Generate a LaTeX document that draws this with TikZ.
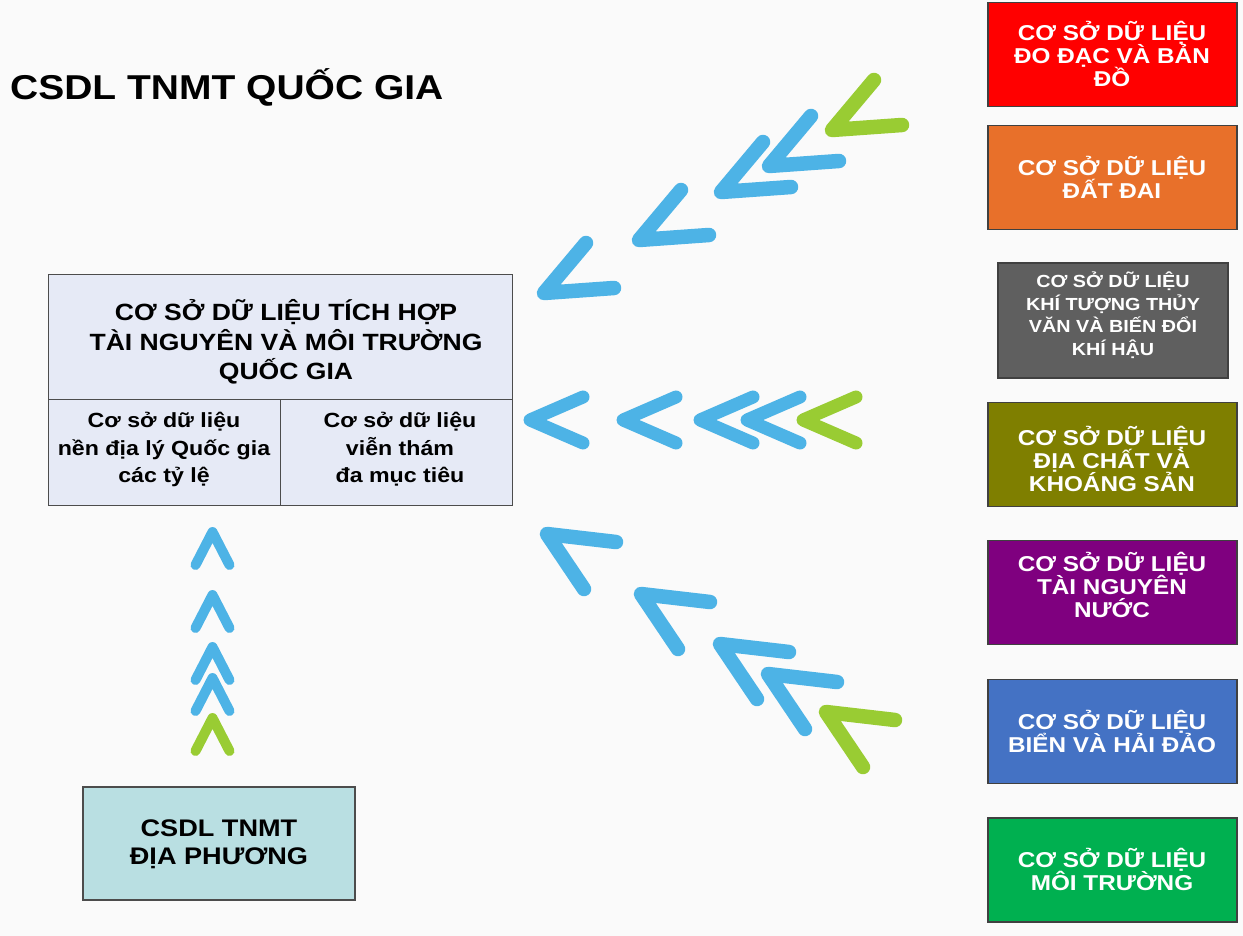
\documentclass[tikz,border=0pt]{standalone}
\usepackage{fontspec}
\setmainfont{Liberation Sans}[FakeStretch=1.13]
\newcommand\tightls{\lineskiplimit=-100pt\relax}
\definecolor{bgc}{HTML}{FAFAFA}
\definecolor{chevblue}{HTML}{4DB3E6}
\definecolor{chevgreen}{HTML}{99CC33}
\definecolor{cellfill}{HTML}{E6EAF6}
\definecolor{localfill}{HTML}{B9DFE2}
\definecolor{cred}{HTML}{FF0000}
\definecolor{corange}{HTML}{E8702A}
\definecolor{cgray}{HTML}{5F5F5F}
\definecolor{colive}{HTML}{7F7F00}
\definecolor{cpurple}{HTML}{7F007F}
\definecolor{cblue}{HTML}{4472C4}
\definecolor{cgreen}{HTML}{00B050}
\begin{document}
\begin{tikzpicture}[x=1pt,y=-1pt,
  cell/.style={draw=black!70, line width=1.1pt, fill=cellfill, anchor=north west, inner sep=0pt},
  rbox/.style={draw=black!75, line width=1.1pt, minimum width=249pt, minimum height=104pt, inner sep=0pt},
  rtext/.style={text=white, align=center, inner sep=0pt, font=\fontsize{21.5}{23}\selectfont\bfseries\tightls},
  btext/.style={text=black, align=center, inner sep=0pt},
  cb/.style={color=chevblue},
  cg/.style={color=chevgreen},
  chevh/.pic={\draw[line width=13pt, line cap=round, line join=round] (53,-23) -- (0,0) -- (53,23);},
  chevu/.pic={\draw[line width=14.5pt, line cap=round, line join=round] (42,-50) -- (0,0) -- (70,-5);},
  chevl/.pic={\draw[line width=14.5pt, line cap=round, line join=round] (69,8) -- (0,0) -- (37,55);},
  chevup/.pic={\draw[line width=10pt, line cap=round, line join=round] (-17,33) -- (0,0) -- (17,33);}
]
\fill[bgc] (0,0) rectangle (1243,936);

% title
\node[anchor=base west, inner sep=0pt, font=\fontsize{34.5}{40}\selectfont\bfseries] (title) at (10,100) {CSDL TNMT QUỐC GIA};

% central box
\node[cell, minimum width=464pt, minimum height=125pt] (top) at (48,274) {};
\node[cell, minimum width=232pt, minimum height=106pt] (bl) at (48,399) {};
\node[cell, minimum width=232pt, minimum height=106pt] (br) at (280,399) {};
\node[btext, font=\fontsize{23.5}{29.5}\selectfont\bfseries\tightls] (toptxt) at (286,342) {CƠ SỞ DỮ LIỆU TÍCH HỢP\\TÀI NGUYÊN VÀ MÔI TRƯỜNG\\QUỐC GIA};
\node[btext, font=\fontsize{20.5}{27.5}\selectfont\bfseries\tightls] (bltxt) at (164,449.5) {Cơ sở dữ liệu\\nền địa lý Quốc gia\\các tỷ lệ};
\node[btext, font=\fontsize{20.5}{27.5}\selectfont\bfseries\tightls] (brtxt) at (400,449.5) {Cơ sở dữ liệu\\viễn thám\\đa mục tiêu};

% local box
\node[draw=black!70, line width=1.1pt, fill=localfill, minimum width=272pt, minimum height=113pt, inner sep=0pt] (local) at (219,843.5) {};
\node[btext, font=\fontsize{24}{28}\selectfont\bfseries\tightls] (localtxt) at (219,844) {CSDL TNMT\\ĐỊA PHƯƠNG};

% right boxes
\node[rbox, fill=cred] (b1) at (1112.5,54.5) {};
\node[rtext] (t1) at (1112,53.5) {CƠ SỞ DỮ LIỆU\\ĐO ĐẠC VÀ BẢN\\ĐỒ};
\node[rbox, fill=corange] (b2) at (1112.5,177.5) {};
\node[rtext] (t2) at (1112,177.5) {CƠ SỞ DỮ LIỆU\\ĐẤT ĐAI};
\node[rbox, fill=cgray, minimum width=230pt, minimum height=115pt] (b3) at (1113,320.5) {};
\node[rtext, font=\fontsize{17.5}{22.5}\selectfont\bfseries\tightls] (t3) at (1113,315) {CƠ SỞ DỮ LIỆU\\KHÍ TƯỢNG THỦY\\VĂN VÀ BIẾN ĐỔI\\KHÍ HẬU};
\node[rbox, fill=colive] (b4) at (1112.5,454.5) {};
\node[rtext] (t4) at (1112,458.5) {CƠ SỞ DỮ LIỆU\\ĐỊA CHẤT VÀ\\KHOÁNG SẢN};
\node[rbox, fill=cpurple] (b5) at (1112.5,592.5) {};
\node[rtext] (t5) at (1112,585) {CƠ SỞ DỮ LIỆU\\TÀI NGUYÊN\\NƯỚC};
\node[rbox, fill=cblue] (b6) at (1112.5,731.5) {};
\node[rtext] (t6) at (1112,731) {CƠ SỞ DỮ LIỆU\\BIỂN VÀ HẢI ĐẢO};
\node[rbox, fill=cgreen] (b7) at (1112.5,870) {};
\node[rtext] (t7) at (1112,869) {CƠ SỞ DỮ LIỆU\\MÔI TRƯỜNG};

% horizontal chevrons
\pic[cb] at (530,420) {chevh};
\pic[cb] at (623,420) {chevh};
\pic[cb] at (700,420) {chevh};
\pic[cb] at (747,420) {chevh};
\pic[cg] at (803,420) {chevh};

% upper diagonal chevrons
\pic[cb] at (544,293) {chevu};
\pic[cb] at (639,240) {chevu};
\pic[cb] at (721,192) {chevu};
\pic[cb] at (769,166) {chevu};
\pic[cg] at (832,130) {chevu};

% lower diagonal chevrons
\pic[cb] at (547,534) {chevl};
\pic[cb] at (641,594) {chevl};
\pic[cb] at (720,644) {chevl};
\pic[cb] at (768,674) {chevl};
\pic[cg] at (826,712) {chevl};

% vertical chevrons
\pic[cb] at (212.5,532) {chevup};
\pic[cb] at (212.5,595) {chevup};
\pic[cb] at (212.5,647) {chevup};
\pic[cb] at (212.5,678) {chevup};
\pic[cg] at (212.5,718) {chevup};
\end{tikzpicture}
\end{document}
